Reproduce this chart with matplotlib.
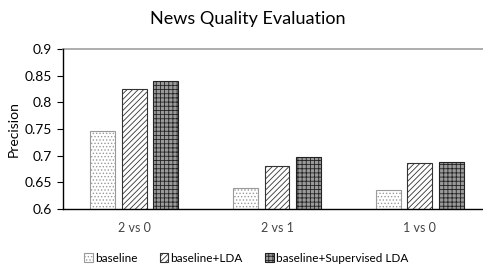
import numpy as np
import matplotlib.pyplot as plt

plt.rcParams['font.family'] = ['Lato', 'DejaVu Sans']
plt.rcParams['hatch.linewidth'] = 0.6

categories = ["2 vs 0", "2 vs 1", "1 vs 0"]
series_names = ["baseline", "baseline+LDA", "baseline+Supervised LDA"]
baseline = [0.747, 0.640, 0.635]
baseline_lda = [0.825, 0.680, 0.687]
baseline_sup = [0.840, 0.698, 0.689]
yticks = [0.6, 0.65, 0.7, 0.75, 0.8, 0.85, 0.9]

fig = plt.figure(figsize=(4.83, 2.69), dpi=100)
ax = fig.add_axes([0.130, 0.223, 0.887, 0.595])

x = np.arange(len(categories))
w = 0.175
step = 0.222
styles = [
    dict(facecolor="white", edgecolor="#9a9a9a", hatch="....."),
    dict(facecolor="white", edgecolor="#333333", hatch="//////"),
    dict(facecolor="#9a9a9a", edgecolor="#222222", hatch="++++"),
]
series = [baseline, baseline_lda, baseline_sup]
bars = []
for i, (vals, st) in enumerate(zip(series, styles)):
    b = ax.bar(x + (i - 1) * step, vals, w, linewidth=0.8, label=series_names[i], **st)
    bars.append(b)

ax.set_ylim(0.6, 0.9)
ax.set_xlim(-0.5, 2.5)
ax.set_yticks(yticks)
ax.set_yticklabels([f"{v:g}" for v in yticks])
ax.set_xticks(x)
ax.set_xticklabels(categories)
ax.axhline(0.9, color="#a0a0a0", lw=1.2, clip_on=False)
ax.tick_params(axis="y", direction="out", length=4, labelsize=10, colors="black")
ax.tick_params(axis="x", length=0, labelsize=9, pad=9, colors="#444444")
for s in ["top", "right"]:
    ax.spines[s].set_visible(False)
ax.spines["left"].set_linewidth(1.0)
ax.spines["bottom"].set_linewidth(1.0)
ax.set_ylabel("Precision", fontsize=10)

fig.text(0.512, 0.93, "News Quality Evaluation", ha="center", va="center", fontsize=13)

fig.legend(handles=bars, labels=series_names, loc="center", bbox_to_anchor=(0.51, 0.04),
           ncol=3, frameon=False, fontsize=8.5, handlelength=0.7, handleheight=0.7,
           handletextpad=0.2, columnspacing=1.9)

fig.savefig("out.png", dpi=100)
